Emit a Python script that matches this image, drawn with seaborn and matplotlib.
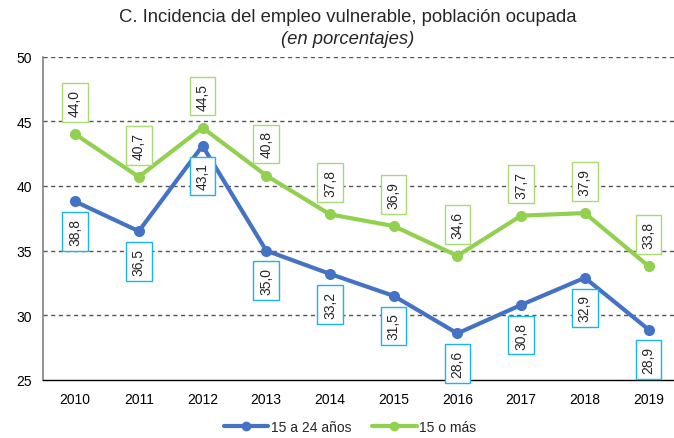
import numpy as np
import pandas as pd
import matplotlib
matplotlib.use("Agg")
import matplotlib.pyplot as plt
from matplotlib.lines import Line2D
import seaborn as sns

years = [2010, 2011, 2012, 2013, 2014, 2015, 2016, 2017, 2018, 2019]
jovenes = [38.8, 36.5, 43.1, 35.0, 33.2, 31.5, 28.6, 30.8, 32.9, 28.9]
total = [44.0, 40.7, 44.5, 40.8, 37.8, 36.9, 34.6, 37.7, 37.9, 33.8]
series_names = ["15 a 24 años", "15 o más"]

sns.set_theme(style="white")
plt.rcParams["font.family"] = ["Liberation Sans", "DejaVu Sans"]

BLUE = "#4472C4"
GREEN = "#92D050"
BOX_BLUE = "#19B4EE"
BOX_GREEN = "#A9DA74"

pos = np.arange(len(years))
df = pd.DataFrame({
    "pos": np.concatenate([pos, pos]),
    "valor": jovenes + total,
    "serie": [series_names[0]] * len(years) + [series_names[1]] * len(years),
})

fig = plt.figure(figsize=(6.74, 4.39), dpi=100)
ax = fig.add_axes([43.2 / 674, 1 - 381 / 439, 637.2 / 674, (381 - 57.5) / 439])

sns.lineplot(data=df, x="pos", y="valor", hue="serie",
             palette=[BLUE, GREEN], hue_order=series_names,
             marker="o", markersize=8, markeredgewidth=0,
             linewidth=3, ax=ax, legend=False)

ax.set_xlim(-0.5, len(years) - 0.5)
ax.set_ylim(25, 50)
ax.set_yticks([25, 30, 35, 40, 45, 50])
ax.set_yticklabels(["25", "30", "35", "40", "45", "50"], fontsize=10)
ax.set_xticks(pos)
ax.set_xticklabels([str(y) for y in years], fontsize=10)
ax.set_xticks(np.arange(-0.5, len(years)), minor=True)
ax.tick_params(axis="x", which="major", length=0, pad=9, colors="black")
ax.tick_params(axis="x", which="minor", length=5, width=1, color="black", direction="out")
ax.tick_params(axis="y", which="major", length=5, width=1, color="#808080",
               direction="out", pad=3, labelcolor="black")
ax.set_xlabel("")
ax.set_ylabel("")

for yv in [30, 35, 40, 45, 50]:
    ax.axhline(yv, color="#555555", linestyle=(0, (3, 2.5)), linewidth=1, zorder=0)

for side in ["top", "right"]:
    ax.spines[side].set_visible(False)
ax.spines["left"].set_color("#808080")
ax.spines["left"].set_linewidth(1.2)
ax.spines["bottom"].set_color("black")
ax.spines["bottom"].set_linewidth(1)

def fmt(v):
    return f"{v:.1f}".replace(".", ",")

for x, v in zip(pos, total):
    ax.annotate(fmt(v), (x, v), xytext=(0, 13), textcoords="offset points",
                rotation=90, ha="center", va="bottom", fontsize=10,
                bbox=dict(boxstyle="square,pad=0.42", fc="white", ec=BOX_GREEN, lw=1))
for x, v in zip(pos, jovenes):
    ax.annotate(fmt(v), (x, v), xytext=(0, -12), textcoords="offset points",
                rotation=90, ha="center", va="top", fontsize=10,
                bbox=dict(boxstyle="square,pad=0.42", fc="white", ec=BOX_BLUE, lw=1))

fig.text(348 / 674, 1 - 18 / 439, "C. Incidencia del empleo vulnerable, población ocupada",
         ha="center", va="center", fontsize=13.3)
fig.text(348 / 674, 1 - 39 / 439, "(en porcentajes)", ha="center", va="center",
         fontsize=13.3, style="italic")

handles = [Line2D([], [], color=BLUE, lw=3, marker="o", markersize=7, markeredgewidth=0),
           Line2D([], [], color=GREEN, lw=3, marker="o", markersize=7, markeredgewidth=0)]
fig.legend(handles, series_names, loc="center", bbox_to_anchor=(350 / 674, 1 - 428 / 439),
           ncol=2, frameon=False, fontsize=10, handlelength=3.2, handletextpad=0.2,
           columnspacing=1.5)

fig.savefig("out.png", dpi=100)
